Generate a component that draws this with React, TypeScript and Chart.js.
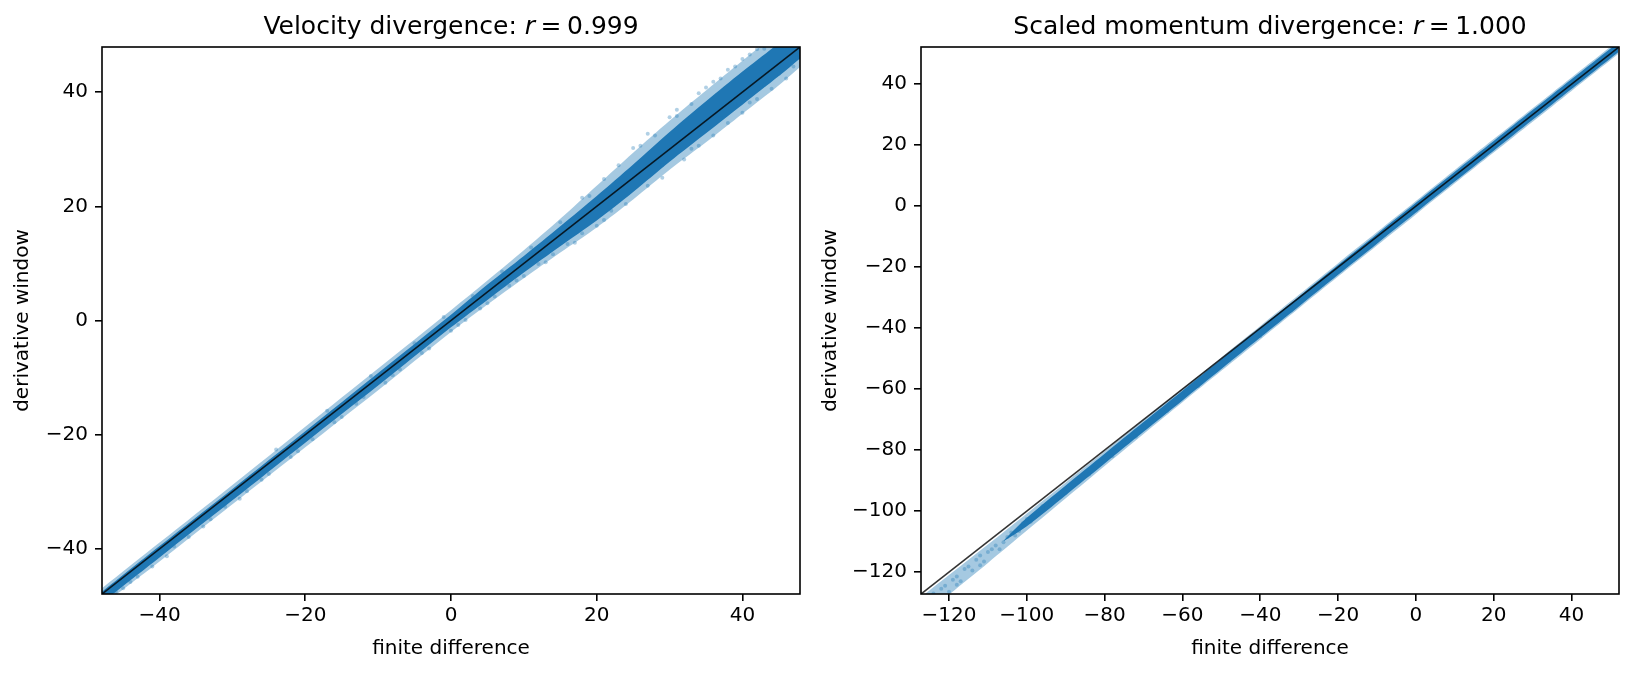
import React, { useEffect, useRef } from "react";
import { Chart, registerables } from "chart.js";
Chart.register(...registerables);

const FONT = "'DejaVu Sans', 'Liberation Sans', sans-serif";
const BLUE = "31,119,180";

const X_LABEL = "finite difference";
const Y_LABEL = "derivative window";

const VEL_TITLE = "Velocity divergence: ";
const VEL_R = "0.999";
const VEL_LIMITS = [-47.9, 47.9];
const VEL_TICKS = [-40, -20, 0, 20, 40];

const MOM_TITLE = "Scaled momentum divergence: ";
const MOM_R = "1.000";
const MOM_LIMITS = [-127.2, 52.2];
const MOM_TICKS = [-120, -100, -80, -60, -40, -20, 0, 20, 40];

// Velocity: envelope of the point cloud (outer, light) and its dense core
const VEL_BAND_X = [-48, -40, -30, -20, -10, 0, 5, 10, 15, 20, 25, 30, 35, 40, 45, 48];
const VEL_OUTER_LO = [-50, -42.2, -32.2, -22.2, -12.2, -2, 2.8, 7.4, 11.9, 16.3, 21.2, 26.4, 31.2, 36.2, 41.2, 44.5];
const VEL_OUTER_HI = [-47, -38.9, -28.8, -18.6, -8.4, 1.8, 7.0, 12.3, 17.8, 23.6, 29.4, 35, 40.3, 45.5, 50.5, 53];
const VEL_CORE_LO = [-49.5, -41.5, -31.5, -21.4, -11.4, -1.2, 3.6, 8.4, 13.0, 17.5, 22.5, 27.8, 32.8, 37.8, 42.8, 46];
const VEL_CORE_HI = [-47.6, -39.5, -29.5, -19.4, -9.2, 1.0, 6.3, 11.3, 16.5, 21.8, 27.3, 33.0, 38.4, 43.6, 48.6, 52];
const VEL_POINTS: [number, number][] = [
  [-46, -47.5], [-44, -45.8], [-43, -44.9], [-41, -43.1], [-38, -39.6], [-36, -37.9], [-33, -34.8],
  [-31, -32.6], [-28, -29.9], [-26, -27.9], [-24, -22.6], [-22, -23.9], [-19, -20.8], [-17, -15.8],
  [-15, -16.9], [-13, -14.6], [-11, -9.7], [-9, -10.9], [-7, -8.6], [-5, -4.0], [-3, -4.9], [-1, 0.6],
  [1, -0.8], [3, 4.3], [5, 3.0], [7, 8.6], [9, 7.0], [11, 12.8], [13, 10.2], [15, 17.2], [17, 13.6],
  [19, 21.8], [21, 17.6], [23, 27.2], [24, 20.4], [26, 30.6], [27, 23.6], [28, 32.4], [29, 25.0],
  [31, 35.8], [32, 28.2], [33, 37.9], [34, 30.6], [35, 40.8], [36, 32.4], [37, 42.4], [38, 34.6],
  [39, 44.5], [40, 36.4], [41, 46.6], [42, 38.8], [43, 47.6], [44, 40.6], [45, 49], [46, 42.4],
  [47, 44.5], [47.5, 46], [-45, -46.9], [-39, -41.3], [-34, -36.1], [-29, -31.2], [-25, -26.9],
  [-21, -22.9], [-16, -17.8], [-12, -13.4], [-8, -9.6], [-4, -5.7], [0, -1.8], [2, 0.1], [4, 2.1],
  [6, 4.2], [8, 6.1], [10, 7.8], [12, 9.9], [14, 11.6], [16, 13.4], [18, 15.3], [20, 16.6],
  [22, 19.2], [25, 30.2], [30, 35.6], [34, 39.8], [38, 43.9], [42, 47.5], [21, 24.8], [18, 21.5],
  [27, 32.7], [31, 36.9], [36, 41.8], [40, 45.8], [44, 49.2], [29, 27.2], [33, 30.1], [37, 35.4],
  [41, 38.2], [45, 43.2], [39, 37.9], [43, 41.3],
];

// Scaled momentum: envelope and core
const MOM_BAND_X = [-127, -120, -110, -100, -90, -80, -70, -60, -50, -40, -30, -20, -10, 0, 10, 20, 30, 40, 52];
const MOM_OUTER_LO = [-135, -127.4, -117, -106.4, -95.8, -85.2, -74.7, -64.3, -54, -43.7, -33.4, -23.1, -12.9, -2.7, 7.5, 17.6, 27.7, 37.8, 49.9];
const MOM_OUTER_HI = [-128, -121, -111, -100.8, -90.6, -80.4, -70.1, -59.9, -49.6, -39.3, -29, -18.7, -8.5, 1.7, 11.9, 22, 32.1, 42.2, 54.3];
const MOM_CORE_X = [-106, -100, -90, -80, -70, -60, -50, -40, -30, -20, -10, 0, 10, 20, 30, 40, 52];
const MOM_CORE_LO = [-109.9, -105, -94.8, -84.4, -74, -63.7, -53.4, -43.1, -32.8, -22.5, -12.3, -2.1, 8.1, 18.2, 28.3, 38.4, 50.5];
const MOM_CORE_HI = [-109.7, -102.2, -91.6, -81.2, -70.8, -60.5, -50.2, -39.9, -29.6, -19.3, -9.1, 1.1, 11.3, 21.4, 31.5, 41.6, 53.7];
const MOM_POINTS: [number, number][] = [
  [-126, -132], [-125, -128.5], [-123, -129.5], [-122, -125.5], [-120, -126.5], [-119, -122.5],
  [-117, -123], [-116, -119], [-114, -119.5], [-113, -116], [-111, -116.5], [-109, -112.5],
  [-107, -112.5], [-105, -108.5], [-103, -108], [-101, -104], [-99, -103.5], [-97, -100], [-95, -99],
  [-92, -95.5], [-90, -94], [-87, -90.5], [-84, -88], [-81, -83.6], [-78, -82], [-75, -77.5],
  [-72, -75.6], [-68, -70.2], [-64, -67.2], [-60, -61.8], [-56, -59], [-52, -53.6], [-48, -50.6],
  [-44, -45.4], [-40, -42.6], [-36, -37.2], [-32, -34.2], [-28, -28.8], [-24, -25.8], [-20, -20.6],
  [-16, -17.6], [-12, -12.3], [-8, -9.4], [-4, -4.2], [0, -1.4], [4, 3.9], [8, 6.8], [12, 12.1],
  [16, 14.9], [20, 20.4], [24, 23.2], [28, 28.6], [32, 31.3], [36, 36.6], [40, 39.3], [44, 44.6],
  [48, 47.5], [51, 51.5], [-124, -127], [-121, -124.5], [-118, -121.5], [-115, -118.2],
  [-112, -114.6], [-110, -113.4], [-108, -111.3], [-106, -110.2], [-104, -107], [-102, -106.5],
  [-100, -102.6], [-98, -101.8], [-96, -98.4], [-94, -97.6], [-118, -124.2], [-112, -117.8],
];

const fmt = (v: number) => (v < 0 ? "\u2212" + Math.abs(v) : String(v));

const framePlugin = {
  id: "frameAndTitle",
  afterDraw(chart: any) {
    const { ctx, chartArea } = chart;
    const o = chart.options.plugins.frameAndTitle;
    ctx.save();
    ctx.strokeStyle = "#000";
    ctx.lineWidth = 1.6;
    ctx.strokeRect(chartArea.left, chartArea.top, chartArea.right - chartArea.left, chartArea.bottom - chartArea.top);
    // title with italic r
    const size = 25;
    const normal = `${size}px ${FONT}`;
    const italic = `oblique ${size}px ${FONT}`;
    ctx.fillStyle = "#000";
    ctx.textBaseline = "alphabetic";
    ctx.font = normal;
    const w1 = ctx.measureText(o.text).width;
    ctx.font = italic;
    const w2 = ctx.measureText("r").width;
    ctx.font = normal;
    const eq = "=";
    const gap = size * 0.22;
    const w3 = ctx.measureText(eq).width;
    const w4 = ctx.measureText(o.r).width;
    const total = w1 + w2 + gap + w3 + gap + w4;
    let x = (chartArea.left + chartArea.right) / 2 - total / 2;
    const y = chartArea.top - 13;
    ctx.textAlign = "left";
    ctx.fillText(o.text, x, y);
    x += w1;
    ctx.font = italic;
    ctx.fillText("r", x, y);
    x += w2 + gap;
    ctx.font = normal;
    ctx.fillText(eq, x, y);
    x += w3 + gap;
    ctx.fillText(o.r, x, y);
    ctx.restore();
  },
};

function band(xs: number[], lo: number[], hi: number[], color: string, order: number) {
  return [
    {
      type: "line",
      data: xs.map((x, i) => ({ x, y: lo[i] })),
      borderWidth: 0,
      pointRadius: 0,
      fill: false,
      showLine: true,
      tension: 0.3,
      order,
    },
    {
      type: "line",
      data: xs.map((x, i) => ({ x, y: hi[i] })),
      borderWidth: 0,
      pointRadius: 0,
      backgroundColor: color,
      fill: "-1",
      showLine: true,
      tension: 0.3,
      order,
    },
  ];
}

function makeConfig(p: any) {
  const tickFont = { family: FONT, size: 20 };
  const gridOpts = {
    display: true,
    drawOnChartArea: false,
    drawTicks: true,
    tickLength: 7,
    tickWidth: 1.6,
    color: "#000",
    lineWidth: 1.6,
  };
  const datasets: any[] = [
    ...band(p.bandX, p.outerLo, p.outerHi, `rgba(${BLUE},0.4)`, 4),
    ...band(p.coreX, p.coreLo, p.coreHi, `rgba(${BLUE},1)`, 3),
    {
      type: "scatter",
      data: p.points.map(([x, y]: [number, number]) => ({ x, y })),
      pointRadius: 2,
      borderWidth: 0,
      backgroundColor: `rgba(${BLUE},0.35)`,
      order: 2,
    },
    {
      type: "line",
      data: [
        { x: p.limits[0], y: p.limits[0] },
        { x: p.limits[1], y: p.limits[1] },
      ],
      borderColor: "rgba(0,0,0,0.8)",
      borderWidth: 1.6,
      pointRadius: 0,
      fill: false,
      showLine: true,
      order: 0,
    },
  ];
  return {
    type: "scatter",
    data: { datasets },
    options: {
      responsive: false,
      animation: false,
      layout: { padding: { left: 0, right: p.padRight, top: 47, bottom: 0 } },
      plugins: {
        legend: { display: false },
        tooltip: { enabled: false },
        title: { display: false },
        frameAndTitle: { text: p.title, r: p.r },
      },
      scales: {
        x: {
          type: "linear",
          min: p.limits[0],
          max: p.limits[1],
          afterBuildTicks: (s: any) => {
            s.ticks = p.ticks.map((v: number) => ({ value: v }));
          },
          afterFit: (s: any) => {
            s.height = 80;
          },
          ticks: { callback: fmt, color: "#000", font: tickFont, padding: 3, maxRotation: 0, autoSkip: false },
          grid: gridOpts,
          border: { display: false },
          title: { display: true, text: X_LABEL, color: "#000", font: tickFont, padding: { top: 0, bottom: 13 } },
        },
        y: {
          type: "linear",
          min: p.limits[0],
          max: p.limits[1],
          afterBuildTicks: (s: any) => {
            s.ticks = p.ticks.map((v: number) => ({ value: v }));
          },
          afterFit: (s: any) => {
            s.width = p.yWidth;
          },
          ticks: { callback: fmt, color: "#000", font: tickFont, padding: 7, autoSkip: false },
          grid: gridOpts,
          border: { display: false },
          title: { display: true, text: Y_LABEL, color: "#000", font: tickFont, padding: { top: p.yTitlePad, bottom: 0 } },
        },
      },
    },
    plugins: [framePlugin],
  };
}

const PANELS = [
  {
    left: 0,
    width: 817,
    yWidth: 102,
    padRight: 17,
    yTitlePad: 11,
    title: VEL_TITLE,
    r: VEL_R,
    limits: VEL_LIMITS,
    ticks: VEL_TICKS,
    bandX: VEL_BAND_X,
    outerLo: VEL_OUTER_LO,
    outerHi: VEL_OUTER_HI,
    coreX: VEL_BAND_X,
    coreLo: VEL_CORE_LO,
    coreHi: VEL_CORE_HI,
    points: VEL_POINTS,
  },
  {
    left: 817,
    width: 818,
    yWidth: 104,
    padRight: 16,
    yTitlePad: 2,
    title: MOM_TITLE,
    r: MOM_R,
    limits: MOM_LIMITS,
    ticks: MOM_TICKS,
    bandX: MOM_BAND_X,
    outerLo: MOM_OUTER_LO,
    outerHi: MOM_OUTER_HI,
    coreX: MOM_CORE_X,
    coreLo: MOM_CORE_LO,
    coreHi: MOM_CORE_HI,
    points: MOM_POINTS,
  },
];

function Panel({ p }: { p: any }) {
  const ref = useRef<HTMLCanvasElement | null>(null);
  useEffect(() => {
    if (!ref.current) return;
    const chart = new Chart(ref.current, makeConfig(p) as any);
    return () => chart.destroy();
  }, [p]);
  return (
    <canvas
      ref={ref}
      width={p.width}
      height={674}
      style={{ position: "absolute", left: p.left, top: 0, width: p.width, height: 674 }}
    />
  );
}

export default function App() {
  return (
    <div style={{ position: "absolute", left: 0, top: 0, width: 1635, height: 674, background: "#fff" }}>
      {PANELS.map((p, i) => (
        <Panel key={i} p={p} />
      ))}
    </div>
  );
}
